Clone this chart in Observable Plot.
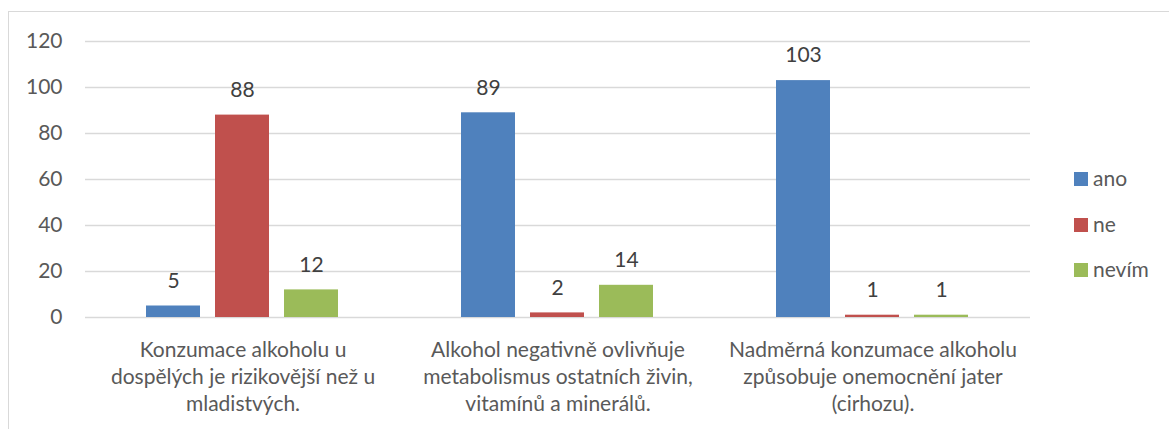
<!DOCTYPE html>
<html>
<head>
<meta charset="utf-8">
<script src="https://cdn.jsdelivr.net/npm/d3@7"></script>
<script src="https://cdn.jsdelivr.net/npm/@observablehq/plot@0.6"></script>
<style>
  html, body { margin: 0; padding: 0; background: #fff; }
  #wrap { position: relative; width: 1169px; height: 429px; overflow: hidden; font-family: Lato, "Open Sans", sans-serif; }
  #frame { position: absolute; left: 8px; top: 11px; width: 1200px; height: 500px; border: 1px solid #d9d9d9; box-sizing: border-box; }
  #chart { position: absolute; left: 0; top: 0; }
  #legend { position: absolute; left: 1074px; top: 172px; }
  .item { position: absolute; left: 0; white-space: nowrap; font-size: 21px; color: #595959; line-height: 14px; }
  .sw { display: inline-block; width: 14px; height: 14px; vertical-align: top; margin-right: 5px; }
  .lbl { display: inline-block; vertical-align: top; position: relative; top: -5px; line-height: 21px; }
</style>
</head>
<body>
<div id="wrap">
  <div id="frame"></div>
  <div id="chart"></div>
  <div id="legend"></div>
</div>
<script>
const categories = [
  "Konzumace alkoholu u\ndospělých je rizikovější než u\nmladistvých.",
  "Alkohol negativně ovlivňuje\nmetabolismus ostatních živin,\nvitamínů a minerálů.",
  "Nadměrná konzumace alkoholu\nzpůsobuje onemocnění jater\n(cirhozu)."
];
const series = ["ano", "ne", "nevím"];
const colors = ["#4f81bd", "#c0504d", "#9bbb59"];
const ano = [5, 89, 103];
const ne = [88, 2, 1];
const nevim = [12, 14, 1];
const yTicks = [0, 20, 40, 60, 80, 100, 120];

const valuesBySeries = [ano, ne, nevim];
const data = [];
categories.forEach((c, i) => {
  series.forEach((s, j) => data.push({category: c, series: s, value: valuesBySeries[j][i]}));
});

const chart = Plot.plot({
  width: 1169,
  height: 429,
  marginLeft: 84,
  marginRight: 138,
  marginTop: 41,
  marginBottom: 112,
  style: {fontFamily: "Lato, 'Open Sans', sans-serif", fontSize: "21px", color: "#595959", background: "transparent"},
  fx: {domain: categories, padding: 0, label: null},
  x: {domain: series, paddingInner: 0.2143, paddingOuter: 0.862, axis: null},
  y: {domain: [0, 120], axis: null},
  color: {domain: series, range: colors},
  marks: [
    Plot.ruleY(yTicks, {stroke: "#d9d9d9", strokeWidth: 1.5}),
    Plot.axisY({ticks: yTicks, tickSize: 0, tickPadding: 23, label: null, fill: "#595959", fontSize: 21, facetAnchor: "left"}),
    Plot.axisFx({anchor: "bottom", tickSize: 0, tickPadding: 20, label: null, fill: "#595959", fontSize: 21, lineHeight: 1.3, lineAnchor: "top", textOverflow: null}),
    Plot.barY(data, {fx: "category", x: "series", y: "value", fill: "series"}),
    Plot.text(data, {fx: "category", x: "series", y: "value", text: d => String(d.value), dy: -25, lineAnchor: "middle", fill: "#404040", fontSize: 21})
  ]
});
document.getElementById("chart").appendChild(chart);

const legend = document.getElementById("legend");
series.forEach((s, i) => {
  const item = document.createElement("div");
  item.className = "item";
  item.style.top = (i * 45.5) + "px";
  item.innerHTML = `<span class="sw" style="background:${colors[i]}"></span><span class="lbl">${s}</span>`;
  legend.appendChild(item);
});
</script>
</body>
</html>
